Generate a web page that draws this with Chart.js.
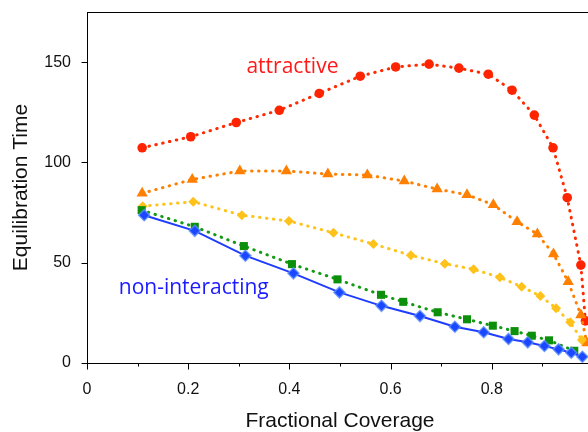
<!DOCTYPE html>
<html>
<head>
<meta charset="utf-8">
<script src="https://cdn.jsdelivr.net/npm/chart.js@4/dist/chart.umd.min.js"></script>
<style>
  html, body { margin: 0; padding: 0; overflow: hidden; background: #fff; }
  #wrap { width: 588px; height: 432px; overflow: hidden; }
</style>
</head>
<body>
<div id="wrap"><canvas id="chart" width="600" height="432"></canvas></div>
<script>
// values
const attractiveX = [0.109, 0.205, 0.295, 0.380, 0.459, 0.540, 0.610, 0.676, 0.735, 0.793, 0.840, 0.884, 0.921, 0.949, 0.976, 0.985];
const attractiveY = [107.3, 112.8, 119.9, 126.0, 134.4, 143.0, 147.6, 149.0, 147.0, 144.0, 136.0, 123.6, 107.3, 82.4, 48.8, 21.0];

const orangeX = [0.109, 0.208, 0.302, 0.394, 0.476, 0.554, 0.627, 0.692, 0.751, 0.803, 0.850, 0.890, 0.922, 0.951, 0.976, 0.988];
const orangeY = [84.6, 91.5, 95.7, 95.7, 94.2, 93.7, 90.7, 86.7, 83.9, 78.9, 70.4, 64.3, 54.3, 40.5, 23.9, 10.0];

const yellowX = [0.110, 0.210, 0.306, 0.399, 0.487, 0.566, 0.640, 0.707, 0.764, 0.816, 0.859, 0.896, 0.927, 0.955, 0.978];
const yellowY = [78.2, 80.4, 73.7, 70.8, 64.9, 59.3, 53.7, 49.5, 46.7, 42.7, 38.0, 33.4, 27.3, 20.3, 11.5];

const greenX = [0.108, 0.213, 0.310, 0.405, 0.495, 0.581, 0.625, 0.693, 0.751, 0.802, 0.845, 0.879, 0.913, 0.963];
const greenY = [76.2, 67.9, 58.3, 49.3, 41.7, 34.0, 30.5, 25.3, 21.8, 18.6, 15.9, 13.6, 11.3, 6.1];

const nonInteractingX = [0.113, 0.213, 0.313, 0.408, 0.499, 0.582, 0.658, 0.727, 0.784, 0.833, 0.871, 0.904, 0.932, 0.957, 0.979];
const nonInteractingY = [73.7, 65.9, 53.5, 44.7, 35.2, 28.5, 23.4, 18.1, 15.3, 12.0, 10.3, 8.5, 6.8, 5.1, 3.1];

const xTicks = [0, 0.2, 0.4, 0.6, 0.8];
const xMinorTicks = [0.1, 0.3, 0.5, 0.7, 0.9];
const yTicks = [0, 50, 100, 150];

const notes = [
  { text: "attractive", x: 0.406, y: 147.5, color: "#ff1a1a" },
  { text: "non-interacting", x: 0.211, y: 37.5, color: "#1a1aff" }
];

function pairs(xs, ys) {
  return xs.map((x, i) => ({ x: x, y: ys[i] }));
}

function dotted(color) {
  return {
    borderColor: color,
    borderWidth: 3,
    borderDash: [0.5, 6.5],
    borderCapStyle: "round"
  };
}

const frameAndTicks = {
  id: "frameAndTicks",
  afterDatasetsDraw(chart) {
    const { ctx, chartArea, scales } = chart;
    ctx.save();
    ctx.strokeStyle = "#000";
    ctx.lineWidth = 1;
    ctx.strokeRect(Math.round(chartArea.left) + 0.5, Math.round(chartArea.top) + 0.5,
      chartArea.right - chartArea.left, chartArea.bottom - chartArea.top);
    ctx.beginPath();
    const b = Math.round(chartArea.bottom) + 0.5;
    xTicks.forEach((v) => {
      const px = Math.round(scales.x.getPixelForValue(v)) + 0.5;
      ctx.moveTo(px, b); ctx.lineTo(px, b + 6);
    });
    xMinorTicks.forEach((v) => {
      const px = Math.round(scales.x.getPixelForValue(v)) + 0.5;
      ctx.moveTo(px, b); ctx.lineTo(px, b + 3);
    });
    const l = Math.round(chartArea.left) + 0.5;
    yTicks.forEach((v) => {
      const py = Math.round(scales.y.getPixelForValue(v)) + 0.5;
      ctx.moveTo(l - 6, py); ctx.lineTo(l, py);
    });
    ctx.stroke();

    ctx.font = "21px 'Open Sans'";
    ctx.textAlign = "center";
    ctx.textBaseline = "middle";
    notes.forEach((n) => {
      ctx.fillStyle = n.color;
      ctx.fillText(n.text, scales.x.getPixelForValue(n.x), scales.y.getPixelForValue(n.y));
    });
    ctx.restore();
  }
};

new Chart(document.getElementById("chart"), {
  type: "scatter",
  data: {
    datasets: [
      {
        label: "non-interacting",
        data: pairs(nonInteractingX, nonInteractingY),
        showLine: true,
        borderColor: "#1f3dff",
        borderWidth: 2,
        pointStyle: "rectRot",
        pointRadius: 5.5,
        pointBackgroundColor: "#1a47ff",
        pointBorderColor: "rgba(90, 140, 255, 0.8)",
        pointBorderWidth: 1.5
      },
      {
        label: "green",
        data: pairs(greenX, greenY),
        showLine: true,
        ...dotted("#139a13"),
        pointStyle: "rect",
        pointRadius: 5.7,
        pointBackgroundColor: "#0c900c",
        pointBorderColor: "#0c900c",
        pointBorderWidth: 0
      },
      {
        label: "yellow",
        data: pairs(yellowX, yellowY),
        showLine: true,
        ...dotted("#ffc41c"),
        pointStyle: "rectRot",
        pointRadius: 5,
        pointBackgroundColor: "#ffc21a",
        pointBorderColor: "#ffc21a",
        pointBorderWidth: 0
      },
      {
        label: "orange",
        data: pairs(orangeX, orangeY),
        showLine: true,
        ...dotted("#ff8000"),
        pointStyle: "triangle",
        pointRadius: 6.5,
        pointBackgroundColor: "#ff7f00",
        pointBorderColor: "#ff7f00",
        pointBorderWidth: 0
      },
      {
        label: "attractive",
        data: pairs(attractiveX, attractiveY),
        showLine: true,
        ...dotted("#ff2a00"),
        pointStyle: "circle",
        pointRadius: 4.8,
        pointBackgroundColor: "#ff2400",
        pointBorderColor: "#ff2400",
        pointBorderWidth: 0
      }
    ]
  },
  plugins: [frameAndTicks],
  options: {
    responsive: false,
    animation: false,
    layout: { padding: { top: 12, right: 1, left: 0, bottom: 0 } },
    plugins: {
      legend: { display: false },
      tooltip: { enabled: false }
    },
    scales: {
      x: {
        type: "linear",
        min: 0,
        max: 1,
        afterFit(scale) {
          scale.height = 69;
          scale.paddingLeft = 0;
          scale.paddingRight = 0;
        },
        afterBuildTicks(scale) { scale.ticks = xTicks.map((v) => ({ value: v })); },
        grid: { display: false, drawTicks: false },
        border: { display: false },
        ticks: {
          padding: 17,
          color: "#111",
          font: { family: "'Liberation Sans', Arial", size: 16 },
          callback: (v) => String(v)
        },
        title: {
          display: true,
          text: "Fractional Coverage",
          color: "#111",
          padding: 0,
          font: { family: "'Liberation Sans', Arial", size: 21, lineHeight: 1 }
        }
      },
      y: {
        min: 0,
        max: 175,
        afterFit(scale) {
          scale.width = 87;
          scale.paddingTop = 0;
          scale.paddingBottom = 0;
        },
        afterBuildTicks(scale) { scale.ticks = yTicks.map((v) => ({ value: v })); },
        grid: { display: false, drawTicks: false },
        border: { display: false },
        ticks: {
          padding: 16,
          color: "#111",
          font: { family: "'Liberation Sans', Arial", size: 16 },
          callback: (v) => String(v)
        },
        title: {
          display: true,
          text: "Equilibration Time",
          color: "#111",
          padding: { top: 11, bottom: 0 },
          font: { family: "'Liberation Sans', Arial", size: 21, lineHeight: 1 }
        }
      }
    }
  }
});
</script>
</body>
</html>
